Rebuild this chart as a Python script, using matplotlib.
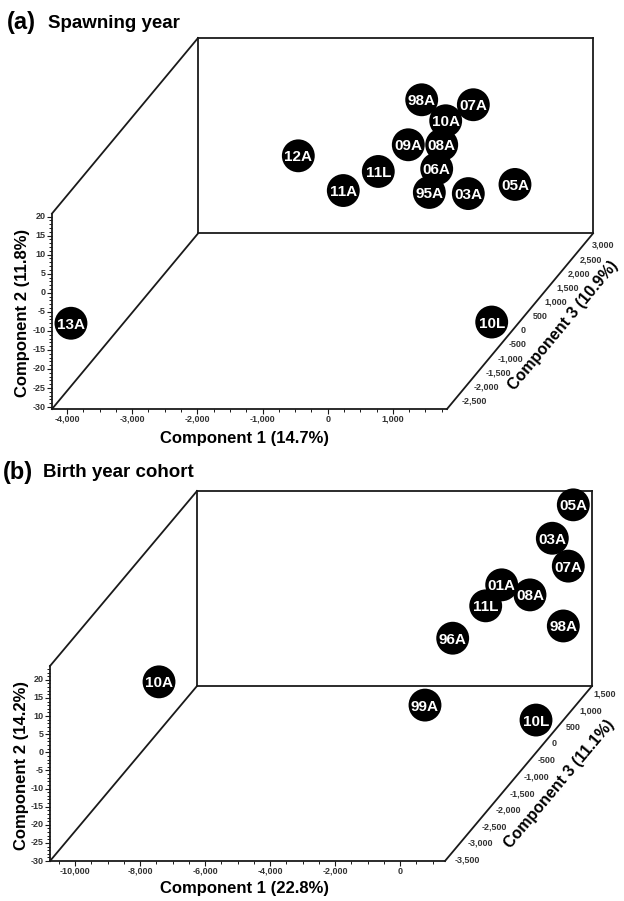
import numpy as np
import matplotlib
matplotlib.use("Agg")
from matplotlib import pyplot as plt

plt.rcParams['font.family'] = ['Liberation Sans', 'DejaVu Sans']

# (a) spawning year -- component scores
a_labels = ['13A', '10L', '12A', '11A', '11L', '05A', '03A', '09A', '98A', '07A', '10A', '08A', '06A', '95A']
a_comp1 = [-4051, 1732, -2019, -881, -568, 1641, 1037, -220, -350, 554, 242, 405, 440, 551]
a_comp2 = [-10.3, -23.8, 3.7, 3.8, 4.2, 3.1, 3.0, 8.9, 13.8, 14.8, 12.9, 11.2, 7.2, 5.6]
a_comp3 = [-2470, -610, 1560, 320, 940, 630, 320, 1250, 2180, 1870, 1560, 940, 630, 10]
a_xticks = [-4000, -3000, -2000, -1000, 0, 1000]
a_yticks = [20, 15, 10, 5, 0, -5, -10, -15, -20, -25, -30]
a_zticks = [3000, 2500, 2000, 1500, 1000, 500, 0, -500, -1000, -1500, -2000, -2500]

# (b) birth year cohort
b_labels = ['10A', '99A', '10L', '96A', '01A', '11L', '08A', '98A', '05A', '03A', '07A']
b_comp1 = [-7869, -1044, 1240, -1096, -41, -533, 603, 1175, 1031, 837, 1103]
b_comp2 = [14.6, -6.3, -22.5, 2.5, 12.4, 6.6, 7.2, -6.2, 22.4, 18.0, 7.9]
b_comp3 = [-3003, -1422, -104, -368, 159, 159, 423, 950, 1476, 950, 1213]
b_xticks = [-10000, -8000, -6000, -4000, -2000, 0]
b_yticks = [20, 15, 10, 5, 0, -5, -10, -15, -20, -25, -30]
b_zticks = [1500, 1000, 500, 0, -500, -1000, -1500, -2000, -2500, -3000, -3500]

W, H = 624, 901
fig = plt.figure(figsize=(W / 100, H / 100), dpi=100)
LC = '#1a1a1a'
TC = '#333333'


def px(x, y):
    return x / W, 1 - y / H


def proj(c1, c2, c3, lim):
    (x0, x1), (y0, y1), (z0, z1), dx, dy = lim
    fz = (np.asarray(c3, float) - z0) / (z1 - z0)
    u = (np.asarray(c1, float) - x0) / (x1 - x0) + fz * dx
    v = (np.asarray(c2, float) - y0) / (y1 - y0) + fz * dy
    return u, v


def panel(box, lim, labels, c1, c2, c3, xt, xminor, yt, zt):
    left, top, right, bottom = box
    ax = fig.add_axes([left / W, 1 - bottom / H, (right - left) / W, (bottom - top) / H])
    (x0, x1), (y0, y1), (z0, z1), dx, dy = lim
    ax.set_xlim(0, 1 + dx)
    ax.set_ylim(0, 1 + dy)
    ax.axis('off')

    # box frame
    edges = [
        ((x0, y0, z0), (x1, y0, z0)),
        ((x0, y0, z0), (x0, y1, z0)),
        ((x0, y0, z0), (x0, y0, z1)),
        ((x0, y1, z0), (x0, y1, z1)),
        ((x1, y0, z0), (x1, y0, z1)),
        ((x0, y0, z1), (x1, y0, z1)),
        ((x0, y1, z1), (x1, y1, z1)),
        ((x0, y0, z1), (x0, y1, z1)),
        ((x1, y0, z1), (x1, y1, z1)),
    ]
    for p, q in edges:
        u, v = proj([p[0], q[0]], [p[1], q[1]], [p[2], q[2]], lim)
        ax.plot(u, v, color=LC, lw=1.3, solid_capstyle='projecting', clip_on=False)

    # x axis ticks
    mt = np.arange(xt[0] - xminor * 4, x1, xminor)
    mt = mt[(mt >= x0) & (mt <= x1)]
    u, v = proj(mt, np.full(len(mt), y0), np.full(len(mt), z0), lim)
    ax.plot(u, v, ls='none', marker=3, ms=2, mew=0.7, color=LC, clip_on=False)
    u, v = proj(xt, np.full(len(xt), y0), np.full(len(xt), z0), lim)
    ax.plot(u, v, ls='none', marker=3, ms=3.5, mew=0.8, color=LC, clip_on=False)
    for t, uu, vv in zip(xt, u, v):
        ax.annotate(f"{t:,}", (uu, vv), xytext=(0, -7.5), textcoords='offset points',
                    ha='center', va='center', fontsize=6.5, color=TC, fontweight='bold')

    # y axis ticks
    ym = np.arange(-30, y1 + 0.01, 1)
    u, v = proj(np.full(len(ym), x0), ym, np.full(len(ym), z0), lim)
    ax.plot(u, v, ls='none', marker=0, ms=2, mew=0.7, color=LC, clip_on=False)
    u, v = proj(np.full(len(yt), x0), yt, np.full(len(yt), z0), lim)
    ax.plot(u, v, ls='none', marker=0, ms=3.5, mew=0.8, color=LC, clip_on=False)
    for t, uu, vv in zip(yt, u, v):
        ax.annotate(f"{t}", (uu, vv), xytext=(-4.5, 0), textcoords='offset points',
                    ha='right', va='center', fontsize=6.5, color=TC, fontweight='bold')

    # z axis tick labels
    u, v = proj(np.full(len(zt), x1), np.full(len(zt), y0), zt, lim)
    for t, uu, vv in zip(zt, u, v):
        ax.annotate(f"{t:,}", (uu, vv), xytext=(6, 0), textcoords='offset points',
                    ha='left', va='center', fontsize=6.5, color=TC, fontweight='bold')

    # scores
    u, v = proj(c1, c2, c3, lim)
    for i, (lab, uu, vv) in enumerate(zip(labels, u, v)):
        ax.scatter([uu], [vv], s=560, color='black', edgecolors='none', zorder=10 + 2 * i, clip_on=False)
        ax.text(uu, vv, lab, color='white', fontsize=11, fontweight='bold', ha='center',
                va='center_baseline', zorder=11 + 2 * i, clip_on=False)
    return ax


lim_a = ((-4230, 1830), (-30.5, 20.8), (-2780, 3420), 146 / 395, 176 / 196)
panel((52, 38, 593, 409), lim_a, a_labels, a_comp1, a_comp2, a_comp3, a_xticks, 250, a_yticks, a_zticks)

lim_b = ((-10770, 1380), (-30, 23.8), (-3530, 1740), 147 / 395, 175 / 195)
panel((50, 491, 592, 861), lim_b, b_labels, b_comp1, b_comp2, b_comp3, b_xticks, 500, b_yticks, b_zticks)

# titles and axis names
fig.text(*px(7, 29), '(a)', fontsize=17, fontweight='bold', va='baseline')
fig.text(*px(48, 28), 'Spawning year', fontsize=13.5, fontweight='bold', va='baseline')
fig.text(*px(3, 479), '(b)', fontsize=17, fontweight='bold', va='baseline')
fig.text(*px(43, 477), 'Birth year cohort', fontsize=13.5, fontweight='bold', va='baseline')

fig.text(*px(245, 438), 'Component 1 (14.7%)', fontsize=12, fontweight='bold', ha='center', va='center')
fig.text(*px(23, 313), 'Component 2 (11.8%)', fontsize=12, fontweight='bold', ha='center', va='center', rotation=90)
fig.text(*px(563, 326), 'Component 3 (10.9%)', fontsize=11.5, fontweight='bold', ha='center', va='center', rotation=50.3)

fig.text(*px(245, 888), 'Component 1 (22.8%)', fontsize=12, fontweight='bold', ha='center', va='center')
fig.text(*px(22, 766), 'Component 2 (14.2%)', fontsize=12, fontweight='bold', ha='center', va='center', rotation=90)
fig.text(*px(559, 784), 'Component 3 (11.1%)', fontsize=11.5, fontweight='bold', ha='center', va='center', rotation=50)

fig.savefig('out.png', dpi=100)
